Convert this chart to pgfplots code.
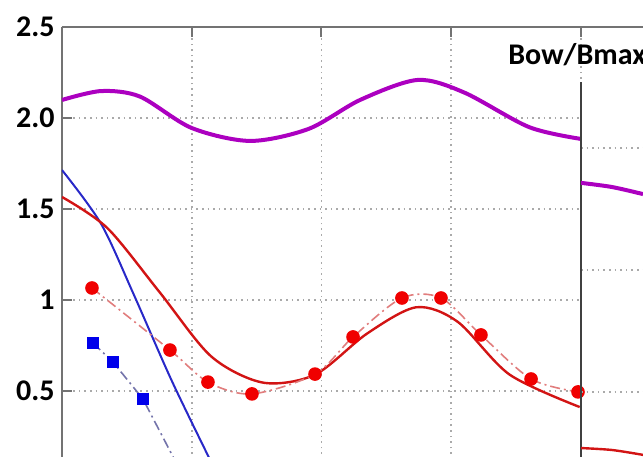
\documentclass[border=0pt]{standalone}
\usepackage{pgfplots}
\pgfplotsset{compat=1.18}
\usepackage{fontspec}
\setmainfont{Carlito}

\definecolor{axisgray}{RGB}{115,115,115}
\definecolor{gridgray}{RGB}{170,170,170}
\definecolor{bowmag}{RGB}{172,0,192}
\definecolor{lineblue}{RGB}{40,40,200}
\definecolor{markblue}{RGB}{0,0,235}
\definecolor{dashblue}{RGB}{115,115,170}
\definecolor{linered}{RGB}{210,20,20}
\definecolor{markred}{RGB}{240,0,0}
\definecolor{dashred}{RGB}{225,125,125}

\tikzset{dashdot/.style={dash pattern=on 5pt off 2pt on 1pt off 2pt}}

\begin{document}
\begin{tikzpicture}
\begin{axis}[
  at={(31pt,-13pt)}, anchor=south west,
  scale only axis, width=259.5pt, height=227.5pt,
  xmin=0, xmax=4, ymin=0, ymax=2.5,
  axis x line*=top, axis y line*=left,
  axis line style={-, draw=axisgray, line width=1pt},
  tick align=inside, major tick length=5pt,
  tick style={draw=axisgray, line width=1pt},
  xtick={1,2,3,4}, xticklabels={},
  ytick={0.5,1,1.5,2,2.5},
  yticklabels={\textbf{0.5},\textbf{1},\textbf{1.5},\textbf{2.0},\textbf{2.5}},
  yticklabel style={font=\fontsize{15}{17}\selectfont, inner sep=0pt, xshift=-3.5pt},
  grid=major,
  major grid style={gridgray, line width=0.8pt, dotted},
]
% upper magenta curve
\addplot[bowmag, line width=2pt, smooth] coordinates {
 (0,2.099)(0.3,2.148)(0.6,2.118)(1.0,1.945)(1.45,1.874)(1.9,1.940)
 (2.3,2.100)(2.74,2.209)(3.1,2.140)(3.6,1.950)(4,1.885)};
% blue model curve
\addplot[lineblue, line width=1pt, smooth] coordinates {
 (0,1.714)(0.3,1.420)(0.55,1.035)(0.85,0.550)(1.18,0.066)};
% blue measured points
\addplot[dashblue, line width=0.8pt, dashdot,
  mark=square*, mark size=2.5pt, mark options={solid, fill=markblue, draw=markblue}] coordinates {
 (0.239,0.764)(0.393,0.659)(0.624,0.456)(0.909,0.066)};
% red model curve
\addplot[linered, line width=1.2pt, smooth] coordinates {
 (0,1.566)(0.35,1.395)(0.75,1.045)(1.15,0.690)(1.55,0.546)(1.95,0.590)
 (2.35,0.815)(2.73,0.960)(3.05,0.880)(3.45,0.590)(3.99,0.412)};
% red measured points
\addplot[dashred, line width=0.8pt, dashdot, smooth,
  mark=*, mark size=3pt, mark options={solid, fill=markred, draw=markred}] coordinates {
 (0.231,1.066)(0.832,0.725)(1.125,0.549)(1.464,0.484)(1.950,0.593)(2.243,0.797)
 (2.620,1.011)(2.921,1.011)(3.229,0.808)(3.615,0.566)(3.977,0.495)};
\end{axis}

\begin{axis}[
  at={(290.5pt,-7pt)}, anchor=south west,
  scale only axis, width=31pt, height=194pt,
  xmin=0, xmax=1, ymin=0.180, ymax=1.7705,
  axis y line*=left, axis x line=none,
  axis line style={-, draw=black!75, line width=1.2pt},
  major tick length=0pt,
  ytick={0.5,1,1.5}, yticklabels={},
  ymajorgrids,
  major grid style={gridgray, line width=0.8pt, dotted},
]
\addplot[bowmag, line width=2pt, smooth] coordinates {(0,1.357)(0.5,1.340)(1,1.311)};
\addplot[linered, line width=1.2pt, smooth] coordinates {(0,0.270)(0.5,0.262)(1,0.242)};
\end{axis}

% frame line continuing along the top
\draw[axisgray, line width=1pt] (290.5pt,214.5pt) -- (330pt,214.5pt);
\node[anchor=base west, inner sep=0pt, font=\fontsize{15}{17}\selectfont\bfseries]
  at (254pt,195.5pt) {Bow/Bmax};

\pgfresetboundingbox
\useasboundingbox (0,0) rectangle (321.5pt,228pt);
\end{tikzpicture}
\end{document}
